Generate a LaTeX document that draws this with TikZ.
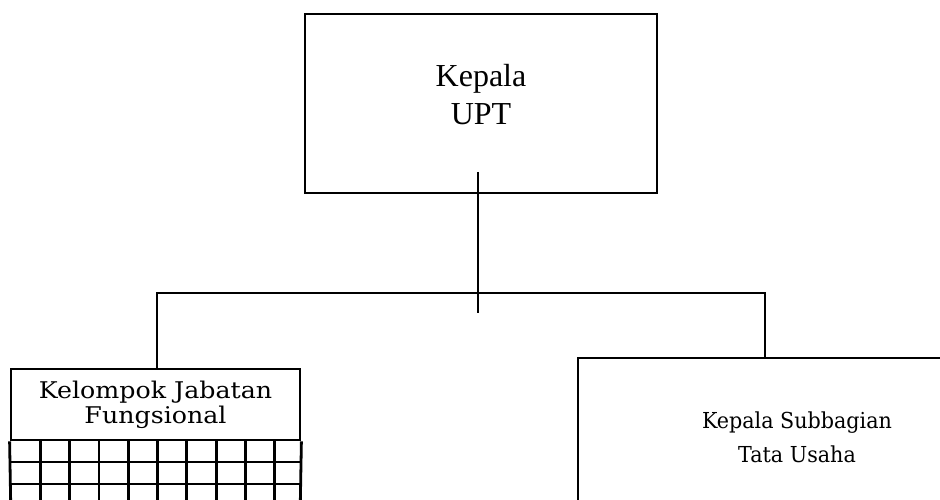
\documentclass[tikz,border=0pt]{standalone}
\usepackage{fontspec}
\setmainfont{Liberation Serif}
\newfontfamily\bookfont{DejaVu Serif}
\tikzset{
  box/.style={draw, rectangle, inner sep=0pt},
  lbl/.style={align=center, inner sep=0pt}
}

\begin{document}
\begin{tikzpicture}[x=1pt,y=-1pt,line width=2.8pt]
        \useasboundingbox (0,0) rectangle (940,500);
        \clip (0,0) rectangle (940,500);
        % boxes
        \node [box, minimum width=352pt, minimum height=179pt] (upt) at (481,103.5) {};
        \node [box, minimum width=289pt, minimum height=71pt] (jfhead) at (155.5,404.5) {};
        \node [box, minimum width=438pt, minimum height=180pt] (tu) at (797,448) {};
        \node [lbl, font=\fontsize{32}{38}\selectfont] (upttext) at (481,95) {Kepala\\UPT};
        \node [lbl, font=\bookfont\fontsize{23}{25}\selectfont] (jftext) at (155.5,405) {\scalebox{1.1}[1]{Kelompok Jabatan}\\\scalebox{1.1}[1]{Fungsional}};
        \node [lbl, font=\bookfont\fontsize{22}{34}\selectfont] (tutext) at (797,437) {\scalebox{0.94}[1]{Kepala Subbagian}\\\scalebox{0.94}[1]{Tata Usaha}};
        % grid under jabatan fungsional
        \draw (jfhead.south west) -- (11,520);
        \draw (jfhead.south east) -- (300,520);
        \foreach \y in {462,484} \draw (11,\y) -- (300,\y);
        \foreach \i in {1,...,9} \draw (11+29.3*\i,440) -- (11+29.3*\i,520);
        % connectors
        \coordinate (stemtop) at (478,172);
        \coordinate (stembot) at (478,313);
        \coordinate (busl) at (157,293);
        \coordinate (busr) at (765,293);
        \draw (stemtop) -- (stembot);
        \draw (jfhead.north -| busl) -- (busl) -- (busr) -- (tu.north -| busr);
    \end{tikzpicture}
\end{document}
